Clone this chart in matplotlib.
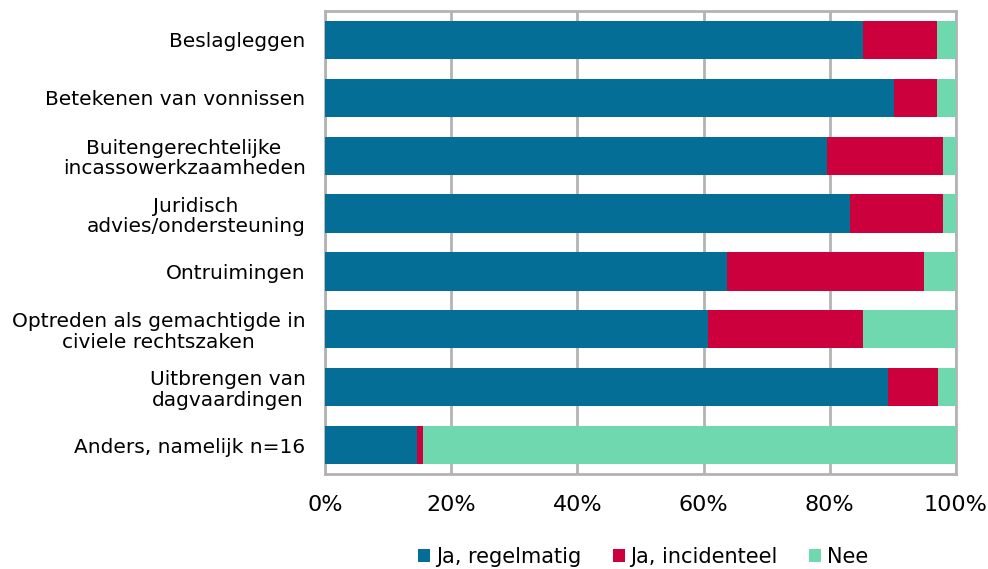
import numpy as np
import matplotlib.pyplot as plt
from matplotlib.patches import Patch

# Categorieën en percentages per antwoord
categorieen = [
    'Beslagleggen',
    'Betekenen van vonnissen',
    'Buitengerechtelijke\nincassowerkzaamheden',
    'Juridisch\nadvies/ondersteuning',
    'Ontruimingen',
    'Optreden als gemachtigde in\nciviele rechtszaken',
    'Uitbrengen van\ndagvaardingen',
    'Anders, namelijk n=16',
]
regelmatig = [85.3, 90.2, 79.5, 83.2, 63.7, 60.7, 89.2, 14.6]
incidenteel = [11.7, 6.8, 18.5, 14.8, 31.3, 24.6, 7.9, 0.9]
nee = [3.0, 3.0, 2.0, 2.0, 5.0, 14.7, 2.9, 84.5]

kleuren = ['#046E96', '#CC003D', '#70D8AE']
labels = ['Ja, regelmatig', 'Ja, incidenteel', 'Nee']

plt.rcParams['font.family'] = 'DejaVu Sans'

fig = plt.figure(figsize=(9.88, 5.69), dpi=100)
ax = fig.add_axes([325 / 988, 1 - 474 / 569, 631 / 988, 463 / 569])

y = np.arange(len(categorieen))
links = np.zeros(len(categorieen))
for waarden, kleur in zip([regelmatig, incidenteel, nee], kleuren):
    ax.barh(y, waarden, left=links, height=0.66, color=kleur, zorder=3)
    links += np.array(waarden)

ax.set_xlim(0, 100)
ax.set_ylim(len(categorieen) - 0.5, -0.5)
ax.set_xticks(np.arange(0, 101, 20))
ax.set_xticklabels([f'{v}%' for v in range(0, 101, 20)], fontsize=16)
ax.set_yticks(y)
ax.set_yticklabels(categorieen, fontsize=14.5, multialignment='center',
                   linespacing=1.1)
ax.tick_params(length=0)
ax.tick_params(axis='y', pad=14)
ax.tick_params(axis='x', pad=15)

ax.grid(axis='x', color='#B3B3B3', linewidth=2, zorder=0)
for spine in ax.spines.values():
    spine.set_color('#B3B3B3')
    spine.set_linewidth(2)

handles = [Patch(facecolor=k, label=l) for k, l in zip(kleuren, labels)]
fig.legend(handles=handles, loc='lower center', bbox_to_anchor=(0.651, -0.03),
           ncol=3, frameon=False, fontsize=15, handlelength=0.58,
           handleheight=0.58, handletextpad=0.27, columnspacing=1.52)

fig.savefig('out.png', dpi=100)
